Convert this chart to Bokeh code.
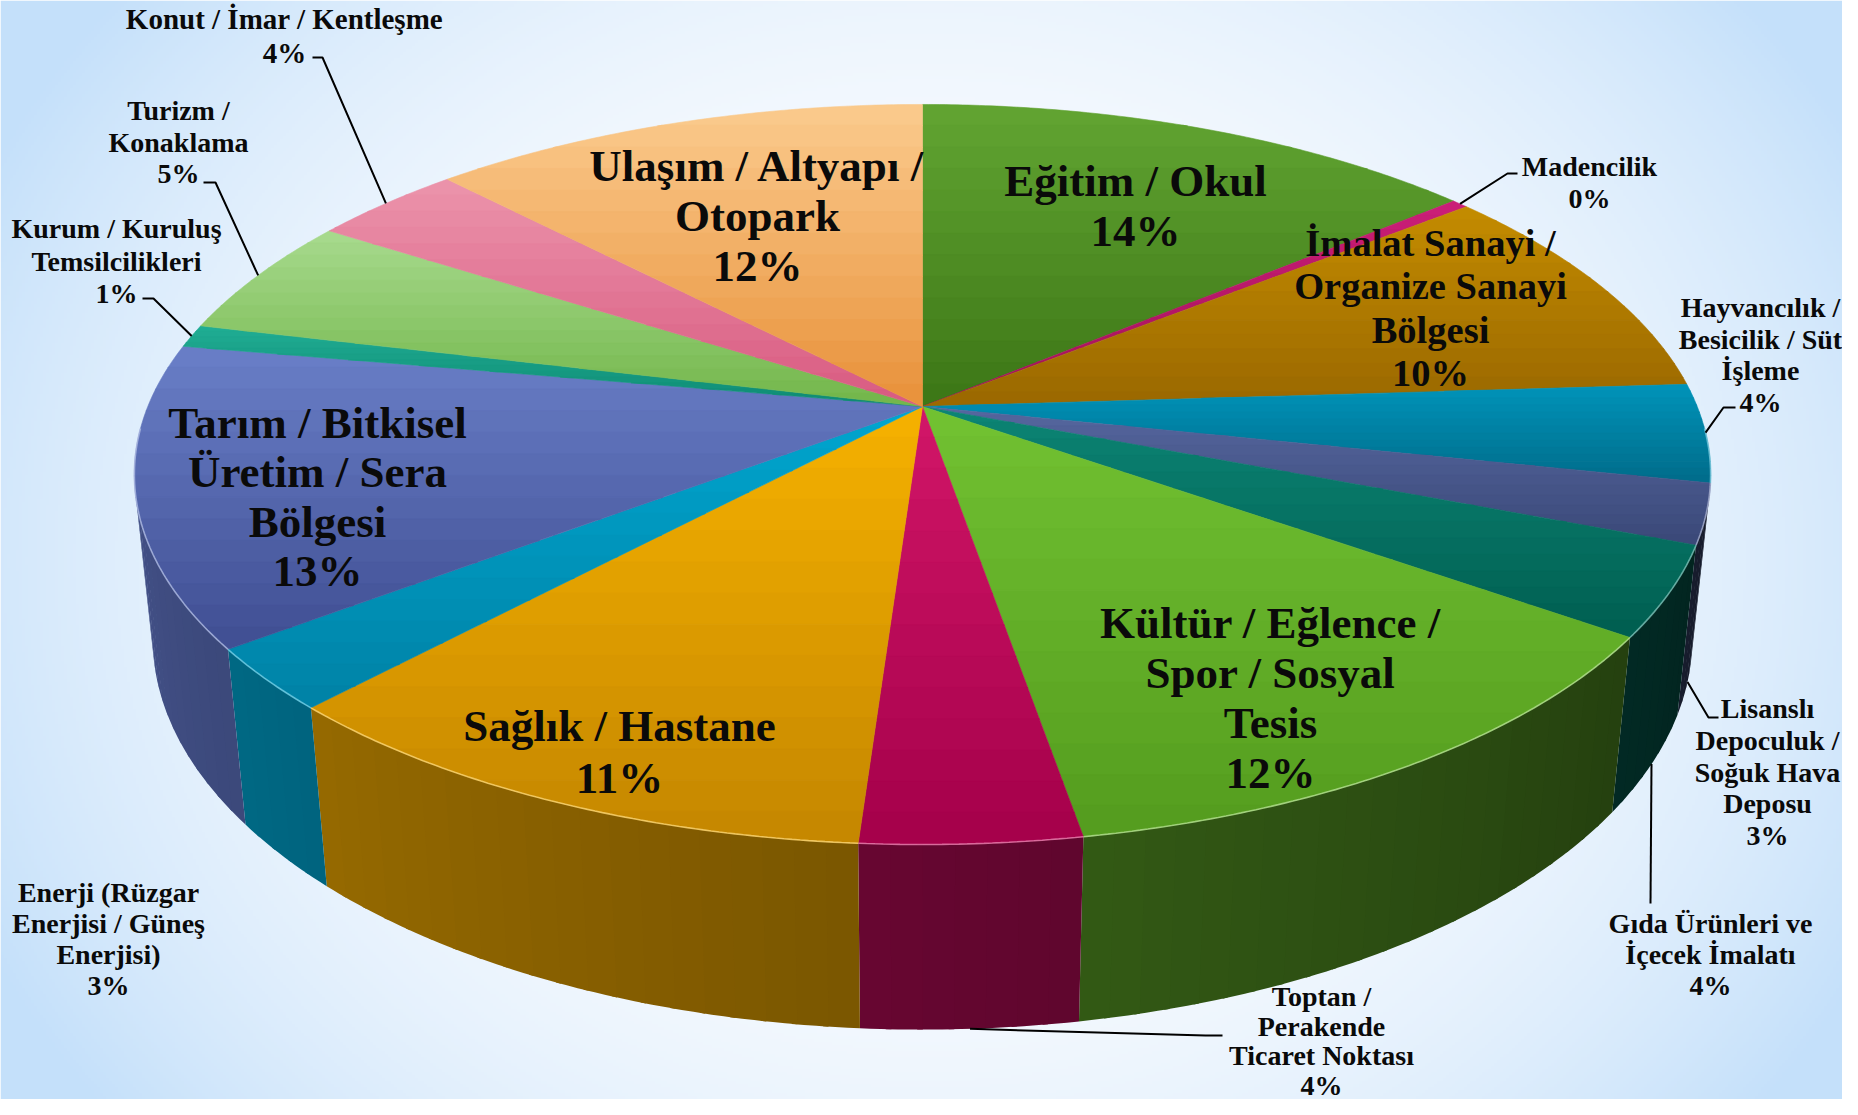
import numpy as np
from bokeh.plotting import figure
from bokeh.models import Range1d, ColumnDataSource
from bokeh.embed import file_html
from bokeh.resources import INLINE
from bokeh.core.properties import value

# ---------------- data (clockwise from 12 o'clock) ----------------
categories = [
    "Eğitim / Okul",
    "Madencilik",
    "İmalat Sanayi /\nOrganize Sanayi\nBölgesi",
    "Hayvancılık /\nBesicilik / Süt\nİşleme",
    "Lisanslı\nDepoculuk /\nSoğuk Hava\nDeposu",
    "Gıda Ürünleri ve\nİçecek İmalatı",
    "Kültür / Eğlence /\nSpor / Sosyal\nTesis",
    "Toptan /\nPerakende\nTicaret Noktası",
    "Sağlık / Hastane",
    "Enerji (Rüzgar\nEnerjisi / Güneş\nEnerjisi)",
    "Tarım / Bitkisel\nÜretim / Sera\nBölgesi",
    "Kurum / Kuruluş\nTemsilcilikleri",
    "Turizm /\nKonaklama",
    "Konut / İmar / Kentleşme",
    "Ulaşım / Altyapı /\nOtopark",
]
shares = [13.9, 0.4, 9.7, 4.3, 2.6, 3.9, 12.48, 3.8, 10.9, 2.7, 13.1, 1.0, 5.3, 3.7, 12.22]

# ---------------- styles ----------------
top_light = ["#62a532", "#cc1f78", "#c48c00", "#0094ba", "#56679f", "#0c8575", "#72c232",
             "#d21668", "#f6b200", "#00a6cf", "#6a7fc8", "#20ae95", "#a8da8e", "#ec94ac", "#fbcb8e"]
top_dark = ["#3c7616", "#a01058", "#9a6800", "#006c8a", "#3a4878", "#005e50", "#549c1e",
            "#a4004a", "#c48600", "#0082a6", "#3f4e92", "#0e8a72", "#72b64a", "#d85a80", "#e8913a"]

# label layout: (center x, first line y, line spacing, font px) in screen pixels
label_layout = [
    (1135, 180, 50, 45), (1589, 166, 32, 28), (1430, 242, 43.5, 38.5), (1760, 307, 31.7, 28),
    (1767, 708, 31.8, 28), (1710, 923, 31, 28), (1270, 622, 50, 45), (1321, 996, 29.5, 28),
    (619, 725, 52, 45), (108, 892, 31, 28), (317, 422, 49.5, 45), (116, 228, 32.5, 28),
    (178, 110, 31.5, 28), (284, 18, 34, 29), (757, 165, 50, 45),
]
# leader lines: slice index -> (elbow, text anchor)
leaders = {
    1: ((1507, 173), (1517, 173)),
    3: ((1723, 407), (1735, 407)),
    4: ((1708, 717), (1718, 717)),
    5: ((1650, 903), (1650, 903)),
    7: ((1205, 1035), (1222, 1035)),
    11: ((153, 298), (142, 298)),
    12: ((215, 182), (203, 182)),
    13: ((322, 57), (312, 57)),
}

# ---------------- projection of the 3D disc ----------------
CX, CY = 922.0, 406.0
F, D = 3741.0, 4.829
S = 0.4615
C = np.sqrt(1 - S * S)
HGT = 0.2407
TH_S = np.degrees(np.arccos(-1.0 / (D * C)))  # wall silhouette angle
VW, VH = 1842.0, 1099.0


def proj(theta_deg, Y=0.0):
    t = np.radians(theta_deg)
    X = np.sin(t)
    Z = np.cos(t)
    yc = Y * C + Z * S
    zc = D + Z * C - Y * S
    return CX + F * X / zc, CY - F * yc / zc


def fy(v):
    return VH - np.asarray(v, dtype=float)


def hex2rgb(h):
    h = h.lstrip("#")
    return np.array([int(h[i:i + 2], 16) for i in (0, 2, 4)], dtype=float)


def rgb2hex(c):
    c = np.clip(np.round(c), 0, 255).astype(int)
    return "#%02x%02x%02x" % tuple(c)


def clip_half(poly, y0, keep_above):
    out = []
    n = len(poly)
    for i in range(n):
        P = poly[i]
        Q = poly[(i + 1) % n]
        pin = P[1] >= y0 if keep_above else P[1] <= y0
        qin = Q[1] >= y0 if keep_above else Q[1] <= y0
        if pin:
            out.append(P)
        if pin != qin:
            t = (y0 - P[1]) / (Q[1] - P[1])
            out.append((P[0] + t * (Q[0] - P[0]), y0))
    return out


vals = np.array(shares, dtype=float)
frac = vals / vals.sum()
ends = np.cumsum(frac) * 360.0
starts = ends - frac * 360.0
pcts = ["%d%%" % round(v) for v in frac * 100]

# ---------------- figure ----------------
p = figure(width=int(VW), height=int(VH), x_range=Range1d(0, VW), y_range=Range1d(0, VH),
           output_backend="svg", toolbar_location=None, min_border=0,
           x_axis_location=None, y_axis_location=None)
p.grid.visible = False
p.outline_line_color = None
p.background_fill_color = "white"
p.border_fill_color = "white"

# background gradient
nx, ny = 614, 366
gx = (np.arange(nx) + 0.5) * VW / nx
gy = VH - (np.arange(ny) + 0.5) * VH / ny
XX, YY = np.meshgrid(gx, gy)
tt = np.clip(((XX - 930) / 1050) ** 2 + ((YY - 560) / 900) ** 2, 0, 1) ** 1.3
inner = np.array([252, 253, 255.0])
outer = np.array([196, 224, 250.0])
rgb = inner + (outer - inner) * tt[..., None]
img = np.empty((ny, nx), dtype=np.uint32)
view = img.view(dtype=np.uint8).reshape((ny, nx, 4))
view[..., 0] = rgb[..., 0]
view[..., 1] = rgb[..., 1]
view[..., 2] = rgb[..., 2]
view[..., 3] = 255
p.image_rgba(image=[img], x=0, y=0, dw=VW, dh=VH)

# side walls (overlapping strips to avoid seams)
wx, wy, wc = [], [], []
span = 360 - 2 * TH_S
STEP = 2.0
for i in range(len(vals)):
    a = max(starts[i], TH_S)
    b = min(ends[i], 360 - TH_S)
    if a >= b:
        continue
    mid = (hex2rgb(top_light[i]) + hex2rgb(top_dark[i])) / 2
    nstep = max(1, int(np.ceil((b - a) / STEP)))
    edges = np.linspace(a, b, nstep + 1)
    for k in range(nstep):
        t0 = edges[k]
        t1 = min(edges[k + 1] + 0.35, b) if k < nstep - 1 else edges[k + 1]
        th = np.linspace(t0, t1, 4)
        tx, ty = proj(th, 0.0)
        bx, by = proj(th[::-1], -HGT)
        fac = 0.30 + 0.48 * ((edges[k] + edges[k + 1]) / 2 - TH_S) / span
        wx.append(list(np.concatenate([tx, bx])))
        wy.append(list(fy(np.concatenate([ty, by]))))
        wc.append(rgb2hex(mid * fac))
p.patches(xs="xs", ys="ys", fill_color="c", line_color=None,
          source=ColumnDataSource(dict(xs=wx, ys=wy, c=wc)))

# top faces with vertical gradient
fx, fyy, fc = [], [], []
NB = 14
for i in range(len(vals)):
    n = max(2, int((ends[i] - starts[i]) / 0.5) + 1)
    th = np.linspace(starts[i], ends[i], n)
    rx, ry = proj(th, 0.0)
    poly = [(CX, CY)] + list(zip(rx, ry))
    ys_ = [q[1] for q in poly]
    y_lo, y_hi = min(ys_), max(ys_)
    cl, cd = hex2rgb(top_light[i]), hex2rgb(top_dark[i])
    for k in range(NB):
        y0 = y_lo + k * (y_hi - y_lo) / NB
        y1 = y_lo + (k + 1) * (y_hi - y_lo) / NB
        part = clip_half(poly, y0 - (0.7 if k > 0 else 0), True)
        if len(part) < 3:
            continue
        part = clip_half(part, y1, False)
        if len(part) < 3:
            continue
        fx.append([q[0] for q in part])
        fyy.append(list(fy([q[1] for q in part])))
        fc.append(rgb2hex(cl + (cd - cl) * (k + 0.5) / NB))
p.patches(xs="xs", ys="ys", fill_color="c", line_color="c", line_width=0.6,
          source=ColumnDataSource(dict(xs=fx, ys=fyy, c=fc)))

# light highlight along the front rim edge
hx, hy, hc = [], [], []
for i in range(len(vals)):
    a = max(starts[i], TH_S - 10)
    b = min(ends[i], 370 - TH_S)
    if a >= b:
        continue
    th = np.linspace(a, b, max(2, int((b - a) / 0.5) + 1))
    rx, ry = proj(th, 0.0)
    hx.append(list(rx))
    hy.append(list(fy(ry)))
    hc.append(rgb2hex(hex2rgb(top_light[i]) * 0.55 + 255 * 0.45))
p.multi_line(xs="xs", ys="ys", line_color="c", line_width=1.6, line_alpha=0.8,
             source=ColumnDataSource(dict(xs=hx, ys=hy, c=hc)))

# leader lines
lx, ly = [], []
for i, (elbow, anchor) in leaders.items():
    m = (starts[i] + ends[i]) / 2
    Y = -HGT if TH_S <= m <= 360 - TH_S else 0.0
    px_, py_ = proj(m, Y)
    lx.append([px_, elbow[0], anchor[0]])
    ly.append(list(fy([py_, elbow[1], anchor[1]])))
p.multi_line(xs=lx, ys=ly, line_color="black", line_width=2)

# labels
tx_, ty_, tt_, ts_ = [], [], [], []
for i, cat in enumerate(categories):
    x0, y0, sp, fs = label_layout[i]
    lines = cat.split("\n") + [pcts[i]]
    for j, ln in enumerate(lines):
        tx_.append(x0)
        ty_.append(float(fy(y0 + j * sp)))
        tt_.append(ln)
        ts_.append("%.1fpx" % fs)
p.text(x="x", y="y", text="t", text_font_size="s", text_align="center", text_baseline="middle",
       text_font=value("Liberation Serif"), text_font_style="bold", text_color="#0a0a0a",
       source=ColumnDataSource(dict(x=tx_, y=ty_, t=tt_, s=ts_)))

open("out.html", "w").write(file_html(p, INLINE))
